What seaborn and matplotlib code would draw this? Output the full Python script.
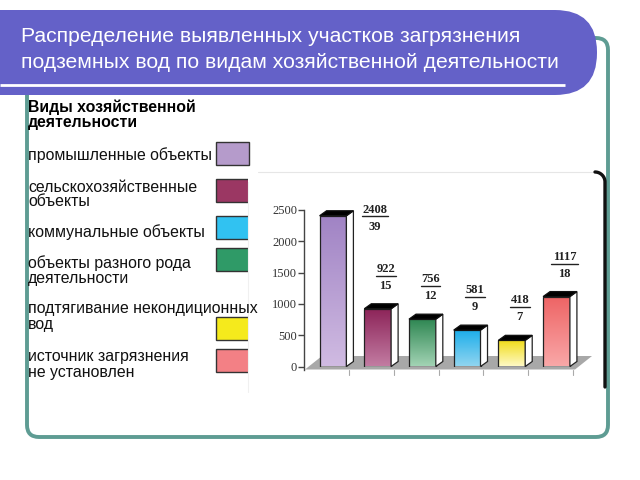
import numpy as np
import pandas as pd
import matplotlib
matplotlib.use("Agg")
import matplotlib.pyplot as plt
import seaborn as sns
from matplotlib.patches import FancyBboxPatch, Rectangle, Polygon
from matplotlib.colors import LinearSegmentedColormap
from matplotlib.transforms import offset_copy

# ---------------- data ----------------
title_lines = ["Распределение выявленных участков загрязнения",
               "подземных вод по видам хозяйственной деятельности"]
legend_title = ["Виды хозяйственной", "деятельности"]
legend_labels = [["промышленные объекты"],
                 ["сельскохозяйственные", "объекты"],
                 ["коммунальные объекты"],
                 ["объекты разного рода", "деятельности"],
                 ["подтягивание некондиционных", "вод"],
                 ["источник загрязнения", "не установлен"]]
legend_colors = ["#B59BCB", "#9B3763", "#31C2F1", "#2F9A67", "#F5EA1C", "#F38085"]

categories = ["промышленные", "сельскохозяйственные", "разного рода",
              "коммунальные", "подтягивание", "не установлен"]
sites = [2408, 922, 756, 581, 418, 1117]
percent = [39, 15, 12, 9, 7, 18]
bar_top_colors = ["#A083C4", "#8C2358", "#2C8550", "#1AADEA", "#F0DB12", "#EE6364"]
bar_bottom_colors = ["#D0BBE2", "#C27CA2", "#A2D3B4", "#90D5F0", "#FFF9C4", "#F9A8A8"]
yticks = [0, 500, 1000, 1500, 2000, 2500]

# ---------------- figure & slide decoration ----------------
sns.set_theme(style="white")
plt.rcParams['font.family'] = ['Liberation Sans', 'DejaVu Sans']
fig = plt.figure(figsize=(6.4, 4.8), dpi=100)
fig.patch.set_facecolor("white")

bg = fig.add_axes([0, 0, 1, 1])
bg.set_xlim(0, 640)
bg.set_ylim(480, 0)
bg.axis("off")

teal = "#5E9C93"
frame = FancyBboxPatch((27, 38), 581, 399, boxstyle="round,pad=0,rounding_size=12",
                       fc="none", ec=teal, lw=2.8, zorder=1)
bg.add_patch(frame)
banner = FancyBboxPatch((-60, 10), 657, 85, boxstyle="round,pad=0,rounding_size=42",
                        fc="#6461C8", ec="none", zorder=2)
bg.add_patch(banner)
bg.plot([0, 565], [85, 85], color="white", lw=2, zorder=3, solid_capstyle="butt")
for k, line in enumerate(title_lines):
    bg.text(21, 36 + 26 * k, line, color="white", fontsize=15.2, va="center", ha="left", zorder=4)

# chart panel
panel = Rectangle((248, 172), 357, 220, fc="white", ec="none", zorder=1.5)
bg.add_patch(panel)
bg.plot([258, 596], [172, 172], color="#E6E6E6", lw=0.8, zorder=1.6)
bg.plot([248, 248], [182, 392], color="#F0F0F0", lw=0.8, zorder=1.6)
t = np.linspace(0, np.pi / 2, 20)
arc_x = 595 + 10 * np.sin(t)
arc_y = 182 - 10 * np.cos(t)
bg.plot(np.r_[arc_x, 605], np.r_[arc_y, 387], color="#111111", lw=2.4, zorder=1.7)

# legend
for k, line in enumerate(legend_title):
    bg.text(28, 107 + 16 * k, line, fontsize=11.4, fontweight="bold", va="center", ha="left", color="black")
label_y = [[155], [187, 201], [232], [263, 279], [308, 324], [357, 373]]
swatch_y = [142, 179, 216, 248, 317, 349]
for lines, ys, col, sy in zip(legend_labels, label_y, legend_colors, swatch_y):
    for line, y in zip(lines, ys):
        bg.text(28, y, line, fontsize=11.4, va="center", ha="left", color="#111111")
    bg.add_patch(Rectangle((216, sy), 33, 23, fc=col, ec="#333333", lw=1.0))

# ---------------- chart ----------------
x_center0 = 333.0
cat_px = 44.7
zero_px = 366.5
top_px = 210.0
ax = fig.add_axes([(x_center0 - cat_px / 2) / 640, (480 - zero_px) / 480,
                   6 * cat_px / 640, (zero_px - top_px) / 480])
ax.patch.set_alpha(0)

df = pd.DataFrame({"cat": categories, "sites": sites})
sns.barplot(data=df, x="cat", y="sites", hue="cat", palette=bar_top_colors, width=0.6,
            ax=ax, legend=False, edgecolor="#222222", linewidth=0.9, saturation=1, zorder=3)
ax.set_xlim(-0.5, 5.5)
ax.set_ylim(0, 2500)

py = (zero_px - top_px) / 2500.0   # pixels per value unit


def px2data(x, y):
    return ((x - x_center0) / cat_px, (zero_px - y) / py)


# floor
floor = Polygon([px2data(305, 369.5), px2data(322, 356), px2data(592, 356), px2data(575, 369.5)],
                closed=True, fc="#A8A8A8", ec="none", zorder=1, clip_on=False)
ax.add_patch(floor)
for b in np.arange(0.5, 6.0, 1.0):
    xb = b - 6 / cat_px
    ax.plot([xb, xb], [px2data(0, 369.5)[1], px2data(0, 375)[1]], color="#AAAAAA", lw=0.8,
            clip_on=False, zorder=1)

dx = 7 / cat_px
dy = 5 / py
for p, ctop, cbot in zip(ax.patches, bar_top_colors, bar_bottom_colors):
    x0, w, h = p.get_x(), p.get_width(), p.get_height()
    x1 = x0 + w
    cmap = LinearSegmentedColormap.from_list("g", [cbot, ctop])
    grad = np.linspace(0, 1, 256).reshape(-1, 1)
    im = ax.imshow(grad, extent=(x0, x1, 0, h), origin="lower", aspect="auto",
                   cmap=cmap, zorder=2.5)
    im.set_clip_path(p)
    p.set_facecolor("none")
    side = Polygon([(x1, 0), (x1 + dx, dy), (x1 + dx, h + dy), (x1, h)], closed=True,
                   fc="white", ec="#222222", lw=0.9, zorder=3, clip_on=False)
    top = Polygon([(x0, h), (x0 + dx, h + dy), (x1 + dx, h + dy), (x1, h)], closed=True,
                  fc="black", ec="#111111", lw=0.9, zorder=3.2, clip_on=False)
    ax.add_patch(side)
    ax.add_patch(top)
ax.set_xlim(-0.5, 5.5)
ax.set_ylim(0, 2500)

# value labels
for i, (v, pc) in enumerate(zip(sites, percent)):
    if v > 2000:
        ox, oy, oyc, oyu = 42, 6, -11, 0
    else:
        ox, oy, oyc, oyu = 8, 40, 23, 33
    ax.annotate(str(v), xy=(i, v), xytext=(ox, oy), textcoords="offset pixels",
                ha="center", va="center", fontsize=9, fontweight="bold",
                family="Liberation Serif", color="#222222", annotation_clip=False)
    ax.annotate(str(pc), xy=(i, v), xytext=(ox, oyc), textcoords="offset pixels",
                ha="center", va="center", fontsize=9, fontweight="bold",
                family="Liberation Serif", color="#222222", annotation_clip=False)
    hw = len(str(v)) * 3.3 / cat_px
    tr = offset_copy(ax.transData, fig=fig, x=ox, y=oyu, units="dots")
    ax.plot([i - hw, i + hw], [v, v], transform=tr, color="#222222", lw=1.0, clip_on=False)

# axes styling
for s in ["top", "right", "bottom"]:
    ax.spines[s].set_visible(False)
ax.spines["left"].set_position(("outward", 4.8))
ax.spines["left"].set_color("#444444")
ax.spines["left"].set_linewidth(1.0)
ax.spines["left"].set_bounds(-56, 2500)
ax.set_yticks(yticks)
ax.set_yticklabels([str(v) for v in yticks], family="Liberation Serif", fontsize=9, color="#333333")
ax.tick_params(axis="y", left=True, length=4, width=1.0, color="#444444", pad=1)
ax.set_xticks([])
ax.set_xlabel("")
ax.set_ylabel("")

fig.savefig("out.png", dpi=100, facecolor="white")
